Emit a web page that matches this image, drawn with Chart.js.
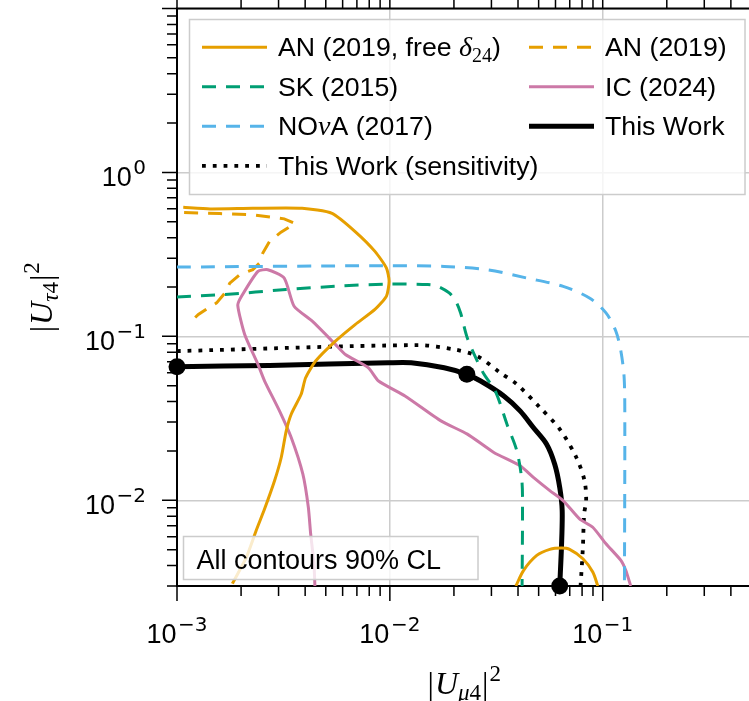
<!DOCTYPE html>
<html>
<head>
<meta charset="utf-8">
<style>
html, body { margin: 0; padding: 0; background: #fff; overflow: hidden; }
canvas { display: block; }
</style>
</head>
<body>
<canvas id="plot" width="760" height="701" style="width:760px;height:701px"></canvas>
<script src="https://cdn.jsdelivr.net/npm/chart.js@4.4.0/dist/chart.umd.min.js"></script>
<script>
// axis ranges
const X_MIN = 1e-3, X_MAX = 0.5
const Y_MIN = 3e-3, Y_MAX = 10

// tick label exponents
const xLabelExps = [-3, -2, -1]
const yLabelExps = [0, -1, -2]

// AN (2019, free delta24), two closed pieces
const anFreeX = [1.07e-3, 1.43e-3, 2.27e-3, 3.87e-3, 5.35e-3, 6.87e-3, 8.51e-3, 9.64e-3, 9.92e-3, 9.64e-3, 8.51e-3, 6.87e-3, 5.55e-3, 4.48e-3, 4.02e-3, 3.83e-3, 3.44e-3, 3.26e-3, 3.09e-3, 2.875e-3, 2.58e-3, 2.355e-3, 2.12e-3, 1.82e-3]
const anFreeY = [0.613, 0.599, 0.604, 0.604, 0.563, 0.436, 0.330, 0.261, 0.217, 0.176, 0.146, 0.118, 0.0935, 0.0707, 0.0559, 0.0443, 0.0335, 0.0265, 0.0183, 0.0132, 0.00887, 0.00654, 0.0045, 0.0031]
const anFreeArcX = [0.0391, 0.0425, 0.0490, 0.0564, 0.0640, 0.0699, 0.0807, 0.0898, 0.0948]
const anFreeArcY = [0.0030, 0.00374, 0.00461, 0.00502, 0.00511, 0.00502, 0.0044, 0.00365, 0.0030]

// AN (2019)
const anX = [1.08e-3, 1.59e-3, 2.27e-3, 3.19e-3, 3.59e-3, 3.08e-3, 2.72e-3, 2.53e-3, 2.44e-3, 2.27e-3, 1.97e-3, 1.77e-3, 1.68e-3, 1.535e-3, 1.40e-3, 1.26e-3, 1.17e-3]
const anY = [0.569, 0.561, 0.551, 0.521, 0.488, 0.432, 0.379, 0.322, 0.280, 0.255, 0.238, 0.211, 0.184, 0.160, 0.149, 0.136, 0.124]

// SK (2015)
const skX = [1.0e-3, 1.68e-3, 3.25e-3, 5.55e-3, 9.82e-3, 0.01507, 0.01678, 0.0190, 0.0204, 0.0215, 0.0222, 0.0231, 0.0249, 0.0277, 0.0313, 0.0355, 0.0395, 0.0417, 0.0420, 0.0418]
const skY = [0.174, 0.180, 0.193, 0.202, 0.2085, 0.207, 0.202, 0.184, 0.164, 0.139, 0.118, 0.098, 0.0776, 0.0587, 0.0464, 0.0291, 0.0200, 0.0132, 0.0091, 0.0030]

// NOvA (2017)
const novaX = [1.0e-3, 9.11e-3, 0.0180, 0.0287, 0.0440, 0.0652, 0.0866, 0.1036, 0.1153, 0.1217, 0.1261, 0.1270, 0.1265]
const novaY = [0.2646, 0.2698, 0.2672, 0.255, 0.2268, 0.2019, 0.1714, 0.139, 0.1075, 0.0813, 0.0559, 0.0305, 0.0030]

// IC (2024)
const icX = [4.445e-3, 4.40e-3, 4.245e-3, 4.14e-3, 3.90e-3, 3.44e-3, 3.03e-3, 2.58e-3, 2.40e-3, 2.08e-3, 1.93e-3, 2.01e-3, 2.40e-3, 2.67e-3, 3.19e-3, 3.55e-3, 4.32e-3, 5.55e-3, 6.18e-3, 7.93e-3, 8.85e-3, 0.01178, 0.01738, 0.02313, 0.03079, 0.04093, 0.04724, 0.05643, 0.06516, 0.0778, 0.0898, 0.1036, 0.1217, 0.1283, 0.1354]
const icY = [0.0030, 0.0041, 0.00625, 0.00907, 0.01447, 0.02415, 0.0351, 0.0534, 0.0675, 0.1027, 0.1547, 0.1755, 0.249, 0.255, 0.2268, 0.1526, 0.1237, 0.0893, 0.0776, 0.0643, 0.0534, 0.0433, 0.0305, 0.02533, 0.01958, 0.01625, 0.0138, 0.01146, 0.00996, 0.0077, 0.00685, 0.00543, 0.0043, 0.00374, 0.0030]

// This Work and its sensitivity
const twX = [1.0e-3, 2.72e-3, 9.82e-3, 0.0126, 0.0180, 0.0230, 0.0267, 0.0343, 0.0409, 0.0472, 0.0545, 0.0595, 0.0628, 0.0645, 0.0640, 0.0628]
const twY = [0.0653, 0.0665, 0.069, 0.069, 0.0643, 0.0587, 0.0534, 0.0433, 0.0351, 0.0278, 0.0220, 0.0166, 0.0120, 0.00866, 0.00518, 0.0030]
const twMarkX = [1.0e-3, 0.0230, 0.0628]
const twMarkY = [0.0653, 0.0587, 0.0030]
const sensX = [1.0e-3, 0.01354, 0.0201, 0.0257, 0.0330, 0.0395, 0.0507, 0.0628, 0.0751, 0.0821, 0.0836, 0.0818, 0.0807, 0.0787]
const sensY = [0.0813, 0.0884, 0.0832, 0.0758, 0.0600, 0.0510, 0.0368, 0.0272, 0.0183, 0.0132, 0.00996, 0.00827, 0.00518, 0.0030]

const ORANGE = '#E69F00', GREEN = '#009E73', BLUE = '#56B4E9', PINK = '#CC79A7'
const DASH = [14, 10], DOT = [3.8, 7]
const W_COL = 3, W_BLACK = 5, W_DOT = 3.8

const SANS = '"Liberation Sans", Arial, sans-serif'
const SERIF = '"Liberation Serif", "Times New Roman", serif'
const LEG_FONT = '26.7px ' + SANS

const pts = (xs, ys) => xs.map((x, i) => ({ x: x, y: ys[i] }))

function line(xs, ys, color, width, dash, tension) {
  return {
    data: pts(xs, ys),
    showLine: true,
    borderColor: color,
    borderWidth: width,
    borderDash: dash || [],
    tension: tension,
    pointRadius: 0,
    fill: false
  }
}

const isDecade = v => Math.abs(Math.log10(v) - Math.round(Math.log10(v))) < 1e-6

function logValues(min, max) {
  const out = []
  for (let d = Math.floor(Math.log10(min)); d <= Math.ceil(Math.log10(max)); d++) {
    for (let m = 1; m <= 9; m++) {
      const v = m * Math.pow(10, d)
      if (v >= min * 0.999 && v <= max * 1.001) out.push({ v: v, major: m === 1 })
    }
  }
  return out
}

function richWidth(ctx, parts) {
  let w = 0
  parts.forEach(p => { ctx.font = p.font; w += ctx.measureText(p.t).width + (p.gap || 0) })
  return w
}

function drawRich(ctx, parts, x, y, align) {
  let cx = x
  if (align === 'center') cx -= richWidth(ctx, parts) / 2
  if (align === 'right') cx -= richWidth(ctx, parts)
  ctx.textAlign = 'left'
  ctx.textBaseline = 'alphabetic'
  parts.forEach(p => {
    ctx.font = p.font
    ctx.fillText(p.t, cx, y + (p.dy || 0))
    cx += ctx.measureText(p.t).width + (p.gap || 0)
  })
}

function powLabel(e) {
  return [
    { t: '10', font: '27px ' + SANS, gap: 1.5 },
    { t: e < 0 ? '\u2212' + (-e) : String(e), font: '20px "DejaVu Sans"', dy: -12 }
  ]
}

function axisTitle(sub) {
  return [
    { t: '|', font: '32px ' + SERIF, gap: 1 },
    { t: 'U', font: 'italic 32px ' + SERIF, gap: 0 },
    { t: sub, font: 'italic 23px ' + SERIF, dy: 6 },
    { t: '4', font: '23px ' + SERIF, dy: 6, gap: 1 },
    { t: '|', font: '32px ' + SERIF, gap: 1 },
    { t: '2', font: '23px ' + SERIF, dy: -13 }
  ]
}

const legendRows = [
  { col: 0, row: 0, color: ORANGE, width: W_COL, dash: [], text: [
    { t: 'AN (2019, free ', font: LEG_FONT },
    { t: '\u03b4', font: 'italic 28px ' + SERIF },
    { t: '24', font: '20px ' + SERIF, dy: 6 },
    { t: ')', font: LEG_FONT }] },
  { col: 0, row: 1, color: GREEN, width: W_COL, dash: DASH, text: [{ t: 'SK (2015)', font: LEG_FONT }] },
  { col: 0, row: 2, color: BLUE, width: W_COL, dash: DASH, text: [
    { t: 'NO', font: LEG_FONT },
    { t: '\u03bd', font: 'italic 28px ' + SERIF },
    { t: 'A (2017)', font: LEG_FONT }] },
  { col: 0, row: 3, color: '#000', width: W_DOT, dash: DOT, text: [{ t: 'This Work (sensitivity)', font: LEG_FONT }] },
  { col: 1, row: 0, color: ORANGE, width: W_COL, dash: DASH, text: [{ t: 'AN (2019)', font: LEG_FONT }] },
  { col: 1, row: 1, color: PINK, width: W_COL, dash: [], text: [{ t: 'IC (2024)', font: LEG_FONT }] },
  { col: 1, row: 2, color: '#000', width: W_BLACK, dash: [], text: [{ t: 'This Work', font: LEG_FONT }] }
]

const framePlugin = {
  id: 'frame',
  afterDraw(chart) {
    const ctx = chart.ctx
    const a = chart.chartArea
    const xs = chart.scales.x, ys = chart.scales.y
    ctx.save()

    // top frame line
    ctx.strokeStyle = '#000'
    ctx.lineWidth = 2
    ctx.beginPath()
    ctx.moveTo(a.left - 1, a.top)
    ctx.lineTo(a.right + 5, a.top)
    ctx.stroke()

    // tick marks
    ctx.lineWidth = 1.5
    ctx.beginPath()
    logValues(X_MIN, X_MAX).forEach(t => {
      const px = xs.getPixelForValue(t.v)
      const len = t.major ? 15 : 10
      ctx.moveTo(px, a.bottom); ctx.lineTo(px, a.bottom + len)
      ctx.moveTo(px, a.top); ctx.lineTo(px, a.top - len)
    })
    logValues(Y_MIN, Y_MAX).forEach(t => {
      const py = ys.getPixelForValue(t.v)
      const len = t.major ? 15 : 10
      ctx.moveTo(a.left, py); ctx.lineTo(a.left - len, py)
    })
    ctx.stroke()

    // tick labels
    ctx.fillStyle = '#000'
    xLabelExps.forEach(e => drawRich(ctx, powLabel(e), xs.getPixelForValue(Math.pow(10, e)), a.bottom + 57, 'center'))
    yLabelExps.forEach(e => drawRich(ctx, powLabel(e), a.left - 31, ys.getPixelForValue(Math.pow(10, e)) + 14, 'right'))

    // axis titles
    drawRich(ctx, axisTitle('\u03bc'), (a.left + a.right) / 2, 694, 'center')
    ctx.save()
    ctx.translate(52, (a.top + a.bottom) / 2)
    ctx.rotate(-Math.PI / 2)
    drawRich(ctx, axisTitle('\u03c4'), 0, 0, 'center')
    ctx.restore()

    // legend
    ctx.fillStyle = 'rgba(255,255,255,0.8)'
    ctx.strokeStyle = '#cccccc'
    ctx.lineWidth = 1.5
    ctx.fillRect(189.5, 19.5, 555.5, 175)
    ctx.strokeRect(189.5, 19.5, 555.5, 175)
    const colX = [202, 529]
    legendRows.forEach(r => {
      const yRow = 47.3 + r.row * 39.5
      const x0 = colX[r.col]
      ctx.strokeStyle = r.color
      ctx.lineWidth = r.width
      ctx.setLineDash(r.dash)
      ctx.beginPath()
      ctx.moveTo(x0, yRow)
      ctx.lineTo(x0 + 65, yRow)
      ctx.stroke()
      ctx.setLineDash([])
      ctx.fillStyle = '#000'
      drawRich(ctx, r.text, x0 + 76, yRow + 9, 'left')
    })

    // note box
    ctx.fillStyle = 'rgba(255,255,255,0.8)'
    ctx.strokeStyle = '#cccccc'
    ctx.lineWidth = 1.5
    ctx.fillRect(183.5, 536.5, 294.5, 43)
    ctx.strokeRect(183.5, 536.5, 294.5, 43)
    ctx.fillStyle = '#000'
    drawRich(ctx, [{ t: 'All contours 90% CL', font: '27px ' + SANS }], 196.5, 568.5, 'left')

    ctx.restore()
  }
}

const gridColor = ctx => (ctx.tick && isDecade(ctx.tick.value)) ? '#cccccc' : 'rgba(0,0,0,0)'

new Chart(document.getElementById('plot'), {
  type: 'scatter',
  data: {
    datasets: [
      line(novaX, novaY, BLUE, W_COL, DASH, 0.3),
      line(skX, skY, GREEN, W_COL, DASH, 0.3),
      line(anX, anY, ORANGE, W_COL, DASH, 0),
      line(anFreeX, anFreeY, ORANGE, W_COL, [], 0.2),
      line(anFreeArcX, anFreeArcY, ORANGE, W_COL, [], 0.3),
      line(icX, icY, PINK, W_COL, [], 0.2),
      line(sensX, sensY, '#000', W_DOT, DOT, 0.3),
      line(twX, twY, '#000', W_BLACK, [], 0.3),
      {
        data: pts(twMarkX, twMarkY),
        showLine: false,
        pointRadius: 8.5,
        pointBackgroundColor: '#000',
        pointBorderWidth: 0,
        clip: false
      }
    ]
  },
  options: {
    responsive: false,
    animation: false,
    layout: { padding: { left: 177, top: 6, right: 3, bottom: 115 } },
    plugins: { legend: { display: false }, tooltip: { enabled: false } },
    scales: {
      x: {
        type: 'logarithmic',
        min: X_MIN,
        max: X_MAX,
        ticks: { display: false },
        grid: { color: gridColor, lineWidth: 1.5, drawTicks: false },
        border: { color: '#000', width: 2 }
      },
      y: {
        type: 'logarithmic',
        min: Y_MIN,
        max: Y_MAX,
        ticks: { display: false },
        grid: { color: gridColor, lineWidth: 1.5, drawTicks: false },
        border: { color: '#000', width: 2 }
      }
    }
  },
  plugins: [framePlugin]
})
</script>
</body>
</html>
